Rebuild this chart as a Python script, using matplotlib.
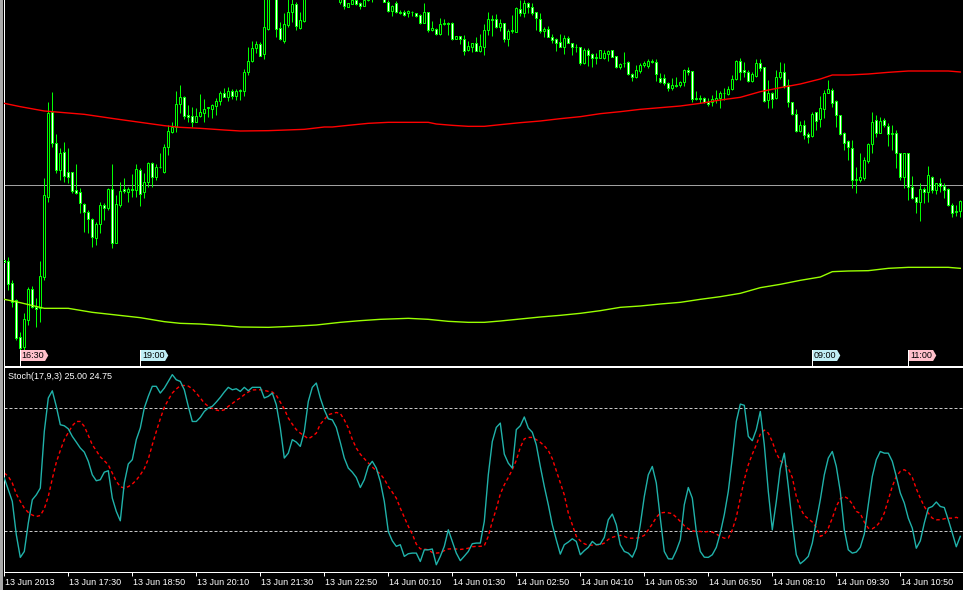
import numpy as np
import pandas as pd
import matplotlib
matplotlib.use("Agg")
import matplotlib.pyplot as plt
from matplotlib.patches import Polygon, Rectangle
import matplotlib.transforms as mtransforms

plt.rcParams['font.family'] = ['Liberation Sans', 'DejaVu Sans']

# ---------------- data ----------------
times = pd.date_range("2013-06-13 16:10", periods=240, freq="5min")

open_ = [320,
    317,250,200,88,60,140,232,180,175,270,
    510,765,670,590,643,583,583,530,523,487,
    464,442,385,428,485,475,532,370,485,532,
    525,534,530,590,525,555,610,570,600,585,
    660,705,720,787,808,755,753,735,752,762,
    775,772,782,797,820,810,827,813,827,828,
    883,918,955,968,937,1013,1130,1150,1015,978,
    1025,1063,1088,1015,1038,1110,1135,1150,1140,1130,
    1145,1130,1120,1095,1105,1078,1088,1100,1090,1083,
    1100,1115,1110,1125,1110,1093,1068,1090,1065,1063,
    1060,1065,1060,1055,1032,1063,1010,1013,998,1027,
    1030,1030,983,992,982,950,960,970,948,960,
    1010,1042,1042,1018,1030,982,1007,1005,1073,1062,
    1090,1078,1063,1043,1008,1012,990,982,973,960,
    985,970,960,958,912,950,937,925,925,925,
    938,950,932,900,910,915,878,868,888,905,
    903,917,913,865,865,850,835,845,845,855,
    890,887,803,807,805,795,795,800,807,822,
    818,832,862,918,890,885,857,873,910,898,
    800,820,805,868,883,845,795,757,708,725,
    698,693,763,742,772,822,830,797,755,700,
    677,655,560,560,565,618,667,740,700,740,
    722,698,700,640,570,640,540,508,495,532,
    525,570,530,550,542,532,485,467,467]

high = [330,
    330,260,202,105,160,240,242,205,317,565,
    795,825,697,655,675,657,585,607,535,490,
    470,445,435,495,490,535,608,515,555,565,
    538,578,608,595,580,613,615,608,640,668,
    725,735,827,845,812,785,780,775,818,803,
    780,788,805,828,835,838,832,832,832,893,
    958,977,977,973,1110,1140,1180,1160,1035,1060,
    1105,1110,1095,1063,1120,1145,1160,1165,1155,1150,
    1160,1145,1140,1120,1110,1090,1105,1105,1095,1110,
    1125,1130,1135,1140,1115,1100,1085,1098,1070,1070,
    1070,1067,1060,1057,1090,1065,1038,1015,1045,1042,
    1035,1033,992,992,995,978,972,988,998,1028,
    1063,1055,1058,1042,1032,1012,1055,1080,1100,1100,
    1095,1090,1065,1060,1018,1022,998,985,998,995,
    992,972,968,960,955,955,940,940,950,950,
    950,950,932,912,945,917,882,905,912,918,
    922,922,922,880,878,855,865,868,858,893,
    900,888,828,815,810,805,815,830,828,835,
    842,875,920,925,913,890,885,922,922,900,
    860,825,890,913,910,862,795,772,738,740,
    705,765,765,812,830,860,835,800,755,705,
    680,680,600,640,630,670,765,755,750,745,
    732,725,710,642,642,642,572,510,552,538,
    602,572,552,565,552,535,490,485,500]

low = [305,
    230,180,80,45,50,125,175,120,135,260,
    495,660,580,560,555,550,520,518,460,405,
    400,360,365,400,440,470,355,370,478,522,
    495,510,510,482,505,540,540,560,595,580,
    635,700,705,760,743,735,718,733,748,735,
    748,745,755,785,808,798,804,800,800,813,
    875,915,940,933,923,1010,1120,990,980,972,
    1020,1035,1010,1013,1035,1105,1125,1130,1120,1115,
    1125,1110,1105,1088,1073,1078,1088,1085,1072,1083,
    1098,1095,1102,1105,1095,1063,1053,1060,1058,1052,
    1048,1052,1050,1028,1030,1005,1008,995,995,1025,
    995,980,983,968,935,948,945,947,945,935,
    995,993,1015,1008,975,963,1000,1005,1052,1050,
    1060,1055,1010,1002,988,988,970,947,960,938,
    970,935,945,905,908,902,900,908,925,922,
    918,928,895,893,900,875,857,865,882,900,
    895,912,857,850,845,827,830,838,840,842,
    875,795,800,790,790,782,782,790,777,800,
    815,830,860,860,870,855,855,870,888,795,
    775,775,803,862,837,778,755,703,705,682,
    670,690,710,720,745,820,780,720,695,650,
    620,537,522,555,560,610,640,690,700,720,
    663,650,595,560,535,500,502,460,438,492,
    495,520,518,525,505,482,450,452,450]

close = [315,
    248,195,85,55,142,232,180,172,272,515,
    760,670,590,640,572,570,528,522,490,463,
    442,388,428,485,475,533,370,488,527,528,
    533,530,592,518,555,610,570,600,598,660,
    707,720,787,808,753,750,735,752,763,773,
    778,785,797,820,810,827,813,827,830,883,
    918,955,968,933,1018,1130,1160,1012,982,1028,
    1063,1088,1023,1040,1110,1135,1150,1140,1130,1145,
    1130,1120,1125,1110,1082,1090,1100,1088,1083,1100,
    1115,1110,1125,1110,1095,1068,1082,1063,1062,1055,
    1068,1063,1053,1032,1063,1010,1015,997,1028,1030,
    1028,982,992,982,948,962,970,948,962,1010,
    1042,1040,1018,1030,982,1007,1010,1077,1060,1090,
    1078,1062,1045,1008,1013,990,980,972,960,985,
    972,960,958,912,950,935,925,928,950,942,
    948,930,900,907,912,878,868,890,905,912,
    917,913,877,855,850,837,845,843,853,890,
    885,803,807,803,795,788,803,807,822,820,
    832,863,918,885,883,858,877,910,897,797,
    820,802,870,885,842,795,757,708,725,695,
    690,758,738,775,820,832,792,755,697,672,
    658,560,562,570,620,667,735,700,738,725,
    697,700,642,570,640,538,505,495,532,525,
    575,530,550,542,530,485,462,463,497]

# moving averages (read at knots, bar index)
ma_red_knots = [0,4,10,20,28,34,40,44,49,55,59,66,75,80,82,86,91,96,106,108,
                112,116,120,124,129,134,139,144,149,154,159,164,169,174,179,184,
                189,194,199,204,207,211,216,221,226,236,239]
ma_red = [790,780,767,757,743,733,723,718,715,710,707,708,712,719,719,724,730,733,733,728,
          724,721,721,726,732,737,744,750,759,765,772,777,782,790,800,808,
          825,837,848,863,875,875,878,883,887,887,884]
ma_green_knots = [0,4,10,16,22,28,34,40,44,49,54,59,66,72,78,84,89,94,101,106,
                  111,116,120,124,129,134,139,144,149,154,159,164,169,174,179,184,
                  189,194,199,204,207,211,216,221,226,236,239]
ma_green = [202,192,175,175,163,155,147,135,130,128,124,119,118,121,125,133,138,142,145,142,
            136,133,133,137,143,149,154,160,168,178,182,188,193,202,210,220,
            237,247,259,269,285,287,288,295,298,298,295]
hline_level = 545

stoch_main = [45.8,40.1,34.4,18.1,7.0,9.9,23.8,35.2,37.6,40.9,
    68.6,85.0,88.5,80.9,71.9,71.4,69.9,66.2,63.4,60.5,
    58.5,54.0,47.4,44.5,45.0,48.7,49.4,36.0,29.5,24.9,
    43.4,52.7,54.8,64.6,70.3,80.1,85.8,90.7,90.7,87.4,
    89.8,93.1,96.4,93.9,93.1,89.0,80.9,73.5,73.5,75.5,
    78.4,80.1,80.9,83.0,85.3,87.9,90.2,89.0,89.5,88.2,
    90.2,88.5,90.2,90.2,90.2,85.0,85.8,87.4,81.7,70.3,
    55.6,58.0,64.6,63.4,61.3,68.6,83.3,90.2,92.3,85.0,
    79.2,
    74.8,74.3,70.6,63.3,55.6,50.7,48.7,46.1,41.2,45.0,
    51.5,54.0,50.7,44.2,34.4,19.7,15.1,12.4,13.2,7.5,
    8.8,9.1,9.1,5.0,10.7,10.7,11.1,3.4,7.5,12.4,
    20.5,14.8,9.1,5.4,7.6,9.9,13.7,14.0,14.0,24.6,
    47.4,63.7,70.6,72.7,57.5,53.1,50.7,69.5,71.4,75.7,
    70.3,68.2,62.1,51.5,41.7,32.8,23.0,15.6,8.6,13.2,
    14.5,16.1,14.8,8.3,10.3,11.9,14.8,13.2,13.5,16.8,
    25.4,28.2,23.0,13.2,9.9,9.1,7.1,11.5,23.0,36.8,
    47.4,51.5,43.4,26.2,9.9,6.3,6.2,10.3,15.6,32.8,
    41.2,36.0,19.7,9.9,7.1,7.0,8.3,11.9,18.9,27.9,
    39.3,55.6,73.5,82.0,81.4,66.2,64.1,69.5,78.4,62.1,
    39.3,20.5,34.4,50.4,58.0,41.7,23.8,8.3,3.9,5.5,
    7.5,14.0,24.6,35.2,47.4,55.6,58.8,51.5,39.3,20.5,
    10.7,9.1,9.6,11.9,18.4,32.8,46.6,54.8,58.8,58.0,
    58.0,54.0,46.6,38.5,33.6,26.2,21.3,11.5,15.1,23.8,
    31.1,31.9,34.1,31.9,31.4,25.4,18.9,12.2,17.3]

stoch_signal = [48.3,46.6,43.4,38.0,34.4,31.1,29.0,27.7,27.0,27.5,
    30.8,36.8,45.5,53.5,59.3,64.6,68.1,71.4,73.5,73.5,
    71.1,66.7,62.1,59.2,56.2,54.3,52.3,48.3,44.2,41.6,
    40.9,41.6,42.9,44.8,47.4,50.4,55.1,62.1,68.6,74.8,
    80.4,84.1,87.4,89.4,91.0,91.1,90.8,89.5,87.4,85.0,
    82.5,80.9,79.9,79.1,78.7,79.2,80.9,82.3,83.8,85.0,
    86.6,87.9,88.9,89.0,89.0,88.7,88.2,87.9,86.3,83.0,
    79.6,75.2,72.2,69.5,67.8,66.5,65.0,66.2,67.8,72.2,
    74.4,
    76.8,77.4,77.9,77.4,74.3,70.3,64.7,60.5,57.5,55.3,
    53.2,51.2,49.4,47.8,45.3,41.7,38.9,36.0,31.1,26.6,
    22.2,18.4,13.5,11.2,11.1,10.7,9.4,9.1,9.3,10.3,
    11.1,11.2,11.1,10.9,11.1,11.5,12.2,12.4,12.4,12.7,
    17.3,24.6,30.8,38.0,42.5,46.1,49.9,54.5,60.8,65.0,
    65.7,65.7,64.6,63.3,61.6,59.3,55.3,49.4,43.4,37.6,
    28.7,23.0,17.3,15.1,13.7,12.9,13.0,13.2,13.2,14.0,
    15.8,16.8,17.4,17.8,17.3,16.4,16.4,16.4,16.8,17.8,
    20.5,23.3,26.6,28.7,29.0,28.8,28.4,26.6,24.6,22.5,
    21.0,20.0,19.7,19.7,19.4,19.7,19.4,18.4,17.3,16.4,
    16.4,20.5,26.6,36.0,45.0,52.3,57.5,62.1,67.3,69.3,
    67.8,63.7,58.0,54.3,52.8,50.7,46.1,36.8,31.1,27.5,
    25.9,24.3,21.7,17.3,18.1,21.3,26.2,31.9,35.7,36.8,
    35.7,33.1,29.5,28.5,24.3,21.3,21.0,22.2,24.6,28.7,
    35.2,41.7,46.6,49.1,49.9,48.7,46.1,40.6,36.0,31.9,
    28.7,26.2,25.4,25.4,25.9,26.2,26.2,26.6,25.9]

stoch_levels = [20, 80]
stoch_label = "Stoch(17,9,3) 25.00 24.75"

tick_times = ["2013-06-13 16:10", "2013-06-13 17:30", "2013-06-13 18:50", "2013-06-13 20:10",
              "2013-06-13 21:30", "2013-06-13 22:50", "2013-06-14 00:10", "2013-06-14 01:30",
              "2013-06-14 02:50", "2013-06-14 04:10", "2013-06-14 05:30", "2013-06-14 06:50",
              "2013-06-14 08:10", "2013-06-14 09:30", "2013-06-14 10:50"]
tick_labels = ["13 Jun 2013", "13 Jun 17:30", "13 Jun 18:50", "13 Jun 20:10", "13 Jun 21:30",
               "13 Jun 22:50", "14 Jun 00:10", "14 Jun 01:30", "14 Jun 02:50", "14 Jun 04:10",
               "14 Jun 05:30", "14 Jun 06:50", "14 Jun 08:10", "14 Jun 09:30", "14 Jun 10:50"]

marker_times = ["2013-06-13 16:30", "2013-06-13 19:00", "2013-06-14 09:00", "2013-06-14 11:00"]
marker_texts = ["16:30", "19:00", "09:00", "11:00"]
marker_colors = ["#ffc0cb", "#c0eef5", "#c0eef5", "#ffc0cb"]

# ---------------- figure ----------------
W, H = 963, 590
fig = plt.figure(figsize=(W / 100, H / 100), dpi=100, facecolor="black")
PX = 0.72  # 1 pixel in points

def fx(px):
    return px / W

def fy(py):
    return 1 - py / H

X0 = 4.0
TOP_BOTTOM = 365.5
BOT_TOP, BOT_BOTTOM = 367.3, 571.7
ax1 = fig.add_axes([fx(X0), fy(TOP_BOTTOM), 1 - fx(X0), TOP_BOTTOM / H])
ax2 = fig.add_axes([fx(X0), fy(BOT_BOTTOM), 1 - fx(X0), (BOT_BOTTOM - BOT_TOP) / H], sharex=ax1)

fig.patches.append(Rectangle((0, 0), fx(2.5), 1, transform=fig.transFigure,
                             facecolor="#a8a8a8", edgecolor="none"))

x = np.arange(len(times))
for ax in (ax1, ax2):
    ax.set_facecolor("black")
    for s in ax.spines.values():
        s.set_color("white")
        s.set_linewidth(PX)
    ax.spines["right"].set_visible(False)

ax1.spines["top"].set_visible(False)

# candles
o = np.array(open_, float)
c = np.array(close, float)
hi = np.array(high, float)
lo = np.array(low, float)
lime = "#00ff00"
ax1.vlines(x, lo, hi, color=lime, lw=PX, zorder=2)
bull = c >= o
bottoms = np.minimum(o, c)
heights = np.abs(c - o)
ax1.bar(x[bull], heights[bull], bottom=bottoms[bull], width=0.5, facecolor="black",
        edgecolor=lime, linewidth=PX, zorder=3)
ax1.bar(x[~bull], heights[~bull], bottom=bottoms[~bull], width=0.5, facecolor="white",
        edgecolor=lime, linewidth=PX, zorder=3)

ax1.plot(ma_red_knots, ma_red, color="#ff0000", lw=1.0, zorder=4)
ax1.plot(ma_green_knots, ma_green, color="#99ff00", lw=1.0, zorder=4)
ax1.axhline(hline_level, color="#a0a0a0", lw=PX, zorder=1)

ax1.set_xlim((X0 - 4.3) / 4, (W - 4.3) / 4)
ax1.set_ylim(1100 - 3 * TOP_BOTTOM, 1100)
ax1.tick_params(left=False, labelleft=False, bottom=False, labelbottom=False)

# time markers on top panel
trans_m = mtransforms.blended_transform_factory(ax1.transData, ax1.transAxes)
def ay(py):
    return (TOP_BOTTOM - py) / TOP_BOTTOM
for t, txt, col in zip(marker_times, marker_texts, marker_colors):
    b = times.get_loc(pd.Timestamp(t))
    w, tip = 6.2, 0.8
    yb, yt = ay(361), ay(350)
    poly = Polygon([(b, yb), (b + w, yb), (b + w + tip, (yb + yt) / 2), (b + w, yt), (b, yt)],
                   closed=True, transform=trans_m, facecolor=col, edgecolor="none", zorder=6,
                   clip_on=False)
    ax1.add_patch(poly)
    ax1.plot([b, b], [0, yt], color="white", lw=PX, transform=trans_m, zorder=6, clip_on=False)
    ax1.text(b + w / 2 + 0.1, (yb + yt) / 2, txt, transform=trans_m, ha="center", va="center",
             fontsize=6.5, color="black", zorder=7)

# stochastic panel
ax2.plot(x, stoch_main, color="#20b2aa", lw=1.0, zorder=3)
ax2.plot(x, stoch_signal, color="#ff0000", lw=1.0, ls=(0, (2.5, 2)), zorder=2)
for lvl in stoch_levels:
    ax2.axhline(lvl, color="#c8c8c8", lw=PX, ls=(0, (3, 2)), zorder=1)
ax2.set_ylim(0, 100)
ax2.tick_params(left=False, labelleft=False)

tick_idx = [times.get_loc(pd.Timestamp(t)) for t in tick_times]
ax2.set_xticks(tick_idx)
ax2.set_xticklabels(tick_labels)
ax2.tick_params(axis="x", colors="white", length=4 * PX, width=PX, direction="out",
                labelsize=6.5, pad=1.5)
offset = mtransforms.ScaledTranslation(1.0 / 100, 0, fig.dpi_scale_trans)
for lbl in ax2.get_xticklabels():
    lbl.set_horizontalalignment("left")
    lbl.set_transform(lbl.get_transform() + offset)

fig.text(fx(7.5), fy(376.5), stoch_label, color="white", fontsize=6.5, ha="left", va="center")

fig.savefig("out.png", dpi=100, facecolor="black")
